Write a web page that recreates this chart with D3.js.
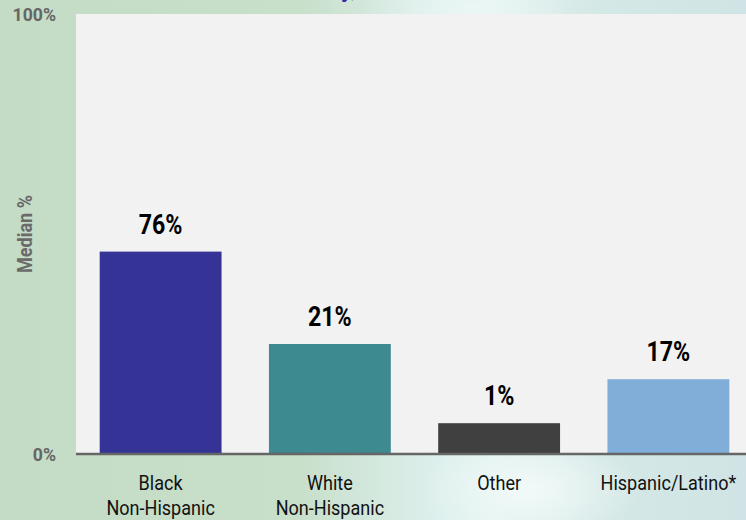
<!DOCTYPE html>
<html>
<head>
<meta charset="utf-8">
<script src="https://cdn.jsdelivr.net/npm/d3@7/dist/d3.min.js"></script>
<style>
  html, body { margin: 0; padding: 0; overflow: hidden; }
  svg { display: block; }
  text { font-family: Roboto, "Noto Sans", sans-serif; }
</style>
</head>
<body>
<div id="chart"></div>
<script>
// ---- data ----
const categories = ["Black\nNon-Hispanic", "White\nNon-Hispanic", "Other", "Hispanic/Latino*"];
const barHeights = [46, 25, 7, 17];           // bar heights as drawn (percent of axis)
const valueLabels = ["76%", "21%", "1%", "17%"]; // labels printed above bars
const barColors = ["#353396", "#3d8a91", "#404040", "#81aed8"];
const yTickValues = [0, 100];
const yTickLabels = ["0%", "100%"];
const yAxisTitle = "Median %";
const titleText = "Race/Ethnicity,";

const W = 746, H = 520;
const svg = d3.select("#chart").append("svg").attr("width", W).attr("height", H);
const defs = svg.append("defs");

// background gradient
const lg = defs.append("linearGradient").attr("id", "bg").attr("x1", 0).attr("x2", 1).attr("y1", 0).attr("y2", 0);
[["0%", "#c4dcc5"], ["40%", "#c8dfca"], ["58%", "#dcefec"], ["66%", "#e2f2ef"], ["80%", "#d4e8e6"], ["100%", "#d0e4e5"]]
  .forEach(([o, c]) => lg.append("stop").attr("offset", o).attr("stop-color", c));
const rg = defs.append("radialGradient").attr("id", "glow").attr("cx", 0.5).attr("cy", 0.5).attr("r", 0.5);
rg.append("stop").attr("offset", "0%").attr("stop-color", "#f4fbfa").attr("stop-opacity", 0.9);
rg.append("stop").attr("offset", "100%").attr("stop-color", "#f4fbfa").attr("stop-opacity", 0);

svg.append("rect").attr("width", W).attr("height", H).attr("fill", "url(#bg)");
svg.append("ellipse").attr("cx", 530).attr("cy", 490).attr("rx", 110).attr("ry", 60).attr("fill", "url(#glow)");
svg.append("ellipse").attr("cx", 470).attr("cy", 8).attr("rx", 110).attr("ry", 30).attr("fill", "url(#glow)").attr("opacity", 0.6);

const plot = { left: 76, right: 746, top: 14, bottom: 454 };

const x = d3.scaleBand().domain(categories).range([76, 753]).paddingInner(0.28).paddingOuter(0.14);
const y = d3.scaleLinear().domain([0, 100]).range([plot.bottom, plot.top]);

// title (mostly cut off at top, as in the reference)
svg.append("text").attr("x", 356).attr("y", -3).attr("text-anchor", "end")
  .attr("font-size", 22).attr("font-weight", 700).attr("fill", "#2a2aa8").text(titleText);

// plot area
svg.append("rect").attr("x", plot.left).attr("y", plot.top)
  .attr("width", plot.right - plot.left).attr("height", plot.bottom - plot.top).attr("fill", "#f2f2f2");

// bars
svg.selectAll("rect.bar").data(categories).join("rect").attr("class", "bar")
  .attr("x", d => x(d)).attr("width", x.bandwidth())
  .attr("y", (d, i) => y(barHeights[i])).attr("height", (d, i) => y(0) - y(barHeights[i]))
  .attr("fill", (d, i) => barColors[i]);

// value labels (condensed via horizontal scale)
svg.selectAll("text.val").data(categories).join("text").attr("class", "val")
  .attr("transform", (d, i) => `translate(${x(d) + x.bandwidth() / 2},${y(barHeights[i]) - 18}) scale(0.86,1)`)
  .attr("text-anchor", "middle").attr("font-size", 27).attr("font-weight", 700).attr("fill", "#000")
  .text((d, i) => valueLabels[i]);

// x axis line
svg.append("line").attr("x1", plot.left).attr("x2", plot.right)
  .attr("y1", plot.bottom).attr("y2", plot.bottom).attr("stroke", "#666").attr("stroke-width", 2.5);

// category labels
categories.forEach(c => {
  const t = svg.append("text")
    .attr("transform", `translate(${x(c) + x.bandwidth() / 2},${plot.bottom}) scale(0.86,1)`)
    .attr("text-anchor", "middle").attr("font-size", 21).attr("fill", "#111");
  c.split("\n").forEach((line, j) => {
    t.append("tspan").attr("x", 0).attr("y", 36 + j * 25).text(line);
  });
});

// y axis tick labels via d3 axis
const yAxis = d3.axisLeft(y).tickValues(yTickValues).tickFormat((d, i) => yTickLabels[i]).tickSize(0).tickPadding(0);
const yg = svg.append("g").attr("transform", "translate(56,0) scale(0.93,1)").call(yAxis);
yg.select(".domain").remove();
yg.selectAll("text").attr("font-family", "Roboto, sans-serif").attr("font-size", 19).attr("font-weight", 700)
  .attr("fill", "#666").attr("dy", "0.36em");

// y axis title
svg.append("text").attr("transform", `translate(32,${(plot.top + plot.bottom) / 2}) rotate(-90) scale(0.86,1)`)
  .attr("text-anchor", "middle").attr("font-size", 21).attr("font-weight", 700).attr("fill", "#6a6a6a")
  .text(yAxisTitle);
</script>
</body>
</html>
